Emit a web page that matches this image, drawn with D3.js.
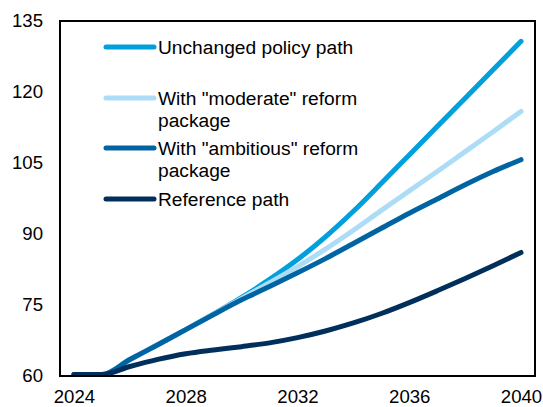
<!DOCTYPE html>
<html>
<head>
<meta charset="utf-8">
<script src="https://cdn.jsdelivr.net/npm/d3@7"></script>
<style>
  html, body { margin: 0; padding: 0; background: #fff; }
  svg { display: block; }
  text { font-family: "Liberation Sans", Arial, sans-serif; fill: #000; }
</style>
</head>
<body>
<svg id="chart" width="543" height="407"></svg>
<script>
// Years on the horizontal axis
const years = [2024, 2025, 2026, 2027, 2028, 2029, 2030, 2031, 2032,
               2033, 2034, 2035, 2036, 2037, 2038, 2039, 2040];

// Projected paths (index, 2024 = base)
const unchangedPolicy = [60.3, 60.3, 63.5, 66.6, 69.8, 73.1, 76.6, 80.4, 84.6,
                         89.4, 94.8, 100.7, 106.7, 112.7, 118.7, 124.7, 130.7];
const moderateReform  = [60.3, 60.3, 63.5, 66.6, 69.8, 73.1, 76.4, 79.7, 83.1,
                         86.8, 90.8, 95.0, 99.1, 103.2, 107.4, 111.6, 115.9];
const ambitiousReform = [60.3, 60.3, 63.5, 66.6, 69.8, 73.0, 76.1, 78.9, 81.8,
                         84.8, 88.0, 91.2, 94.4, 97.4, 100.4, 103.2, 105.7];
const referencePath   = [60.3, 60.3, 62.0, 63.5, 64.7, 65.5, 66.2, 67.0, 68.1,
                         69.5, 71.2, 73.2, 75.5, 78.0, 80.6, 83.3, 86.1];

const seriesNames = ["Unchanged policy path",
                     "With \"moderate\" reform package",
                     "With \"ambitious\" reform package",
                     "Reference path"];

const yTicks = [60, 75, 90, 105, 120, 135];
const xTickLabels = [2024, 2028, 2032, 2036, 2040];

const colors = ["#00A0DC", "#ADDCF6", "#0064A2", "#002F5C"];
const seriesValues = [unchangedPolicy, moderateReform, ambitiousReform, referencePath];

const svg = d3.select("#chart");
const plot = { left: 60, right: 535, top: 21, bottom: 376 };

const x = d3.scalePoint()
  .domain(years)
  .range([plot.left, plot.right])
  .padding(0.5);

const y = d3.scaleLinear()
  .domain([60, 135])
  .range([plot.bottom, plot.top]);

// Y axis labels
const yAxis = d3.axisLeft(y).tickValues(yTicks).tickSize(0).tickPadding(17);
svg.append("g")
  .attr("transform", `translate(${plot.left},0)`)
  .call(yAxis)
  .call(g => g.select(".domain").remove())
  .call(g => g.selectAll("text")
    .style("font-family", "'Liberation Sans', Arial, sans-serif")
    .style("font-size", "18.6px")
    .attr("fill", "#000"));

// X axis labels
const xAxis = d3.axisBottom(x).tickValues(xTickLabels).tickSize(0).tickPadding(0);
svg.append("g")
  .attr("transform", `translate(0,${plot.bottom})`)
  .call(xAxis)
  .call(g => g.select(".domain").remove())
  .call(g => g.selectAll("text")
    .attr("dy", null)
    .attr("y", 27)
    .style("font-family", "'Liberation Sans', Arial, sans-serif")
    .style("font-size", "18.6px")
    .attr("fill", "#000"));

// Series lines
const line = d3.line()
  .x((d, i) => x(years[i]))
  .y(d => y(d))
  .curve(d3.curveMonotoneX);

svg.append("g")
  .selectAll("path")
  .data(seriesValues)
  .join("path")
  .attr("d", d => line(d))
  .attr("fill", "none")
  .attr("stroke", (d, i) => colors[i])
  .attr("stroke-width", 5)
  .attr("stroke-linecap", "round")
  .attr("stroke-linejoin", "round");

// Plot frame
svg.append("rect")
  .attr("x", plot.left)
  .attr("y", plot.top)
  .attr("width", plot.right - plot.left)
  .attr("height", plot.bottom - plot.top)
  .attr("fill", "none")
  .attr("stroke", "#000")
  .attr("stroke-width", 2);

// Legend
const legendRows = [
  { y: 47,  lines: ["Unchanged policy path"] },
  { y: 98,  lines: ["With \"moderate\" reform", "package"] },
  { y: 148, lines: ["With \"ambitious\" reform", "package"] },
  { y: 199, lines: ["Reference path"] }
];

const legend = svg.append("g");
legendRows.forEach((row, i) => {
  legend.append("line")
    .attr("x1", 106).attr("x2", 154)
    .attr("y1", row.y).attr("y2", row.y)
    .attr("stroke", colors[i])
    .attr("stroke-width", 5)
    .attr("stroke-linecap", "round");
  const t = legend.append("text")
    .attr("x", 158)
    .attr("y", row.y)
    .style("font-size", "19.2px");
  row.lines.forEach((s, j) => {
    t.append("tspan")
      .attr("x", 158)
      .attr("dy", j === 0 ? "0.35em" : "22.5px")
      .text(s);
  });
});
</script>
</body>
</html>
